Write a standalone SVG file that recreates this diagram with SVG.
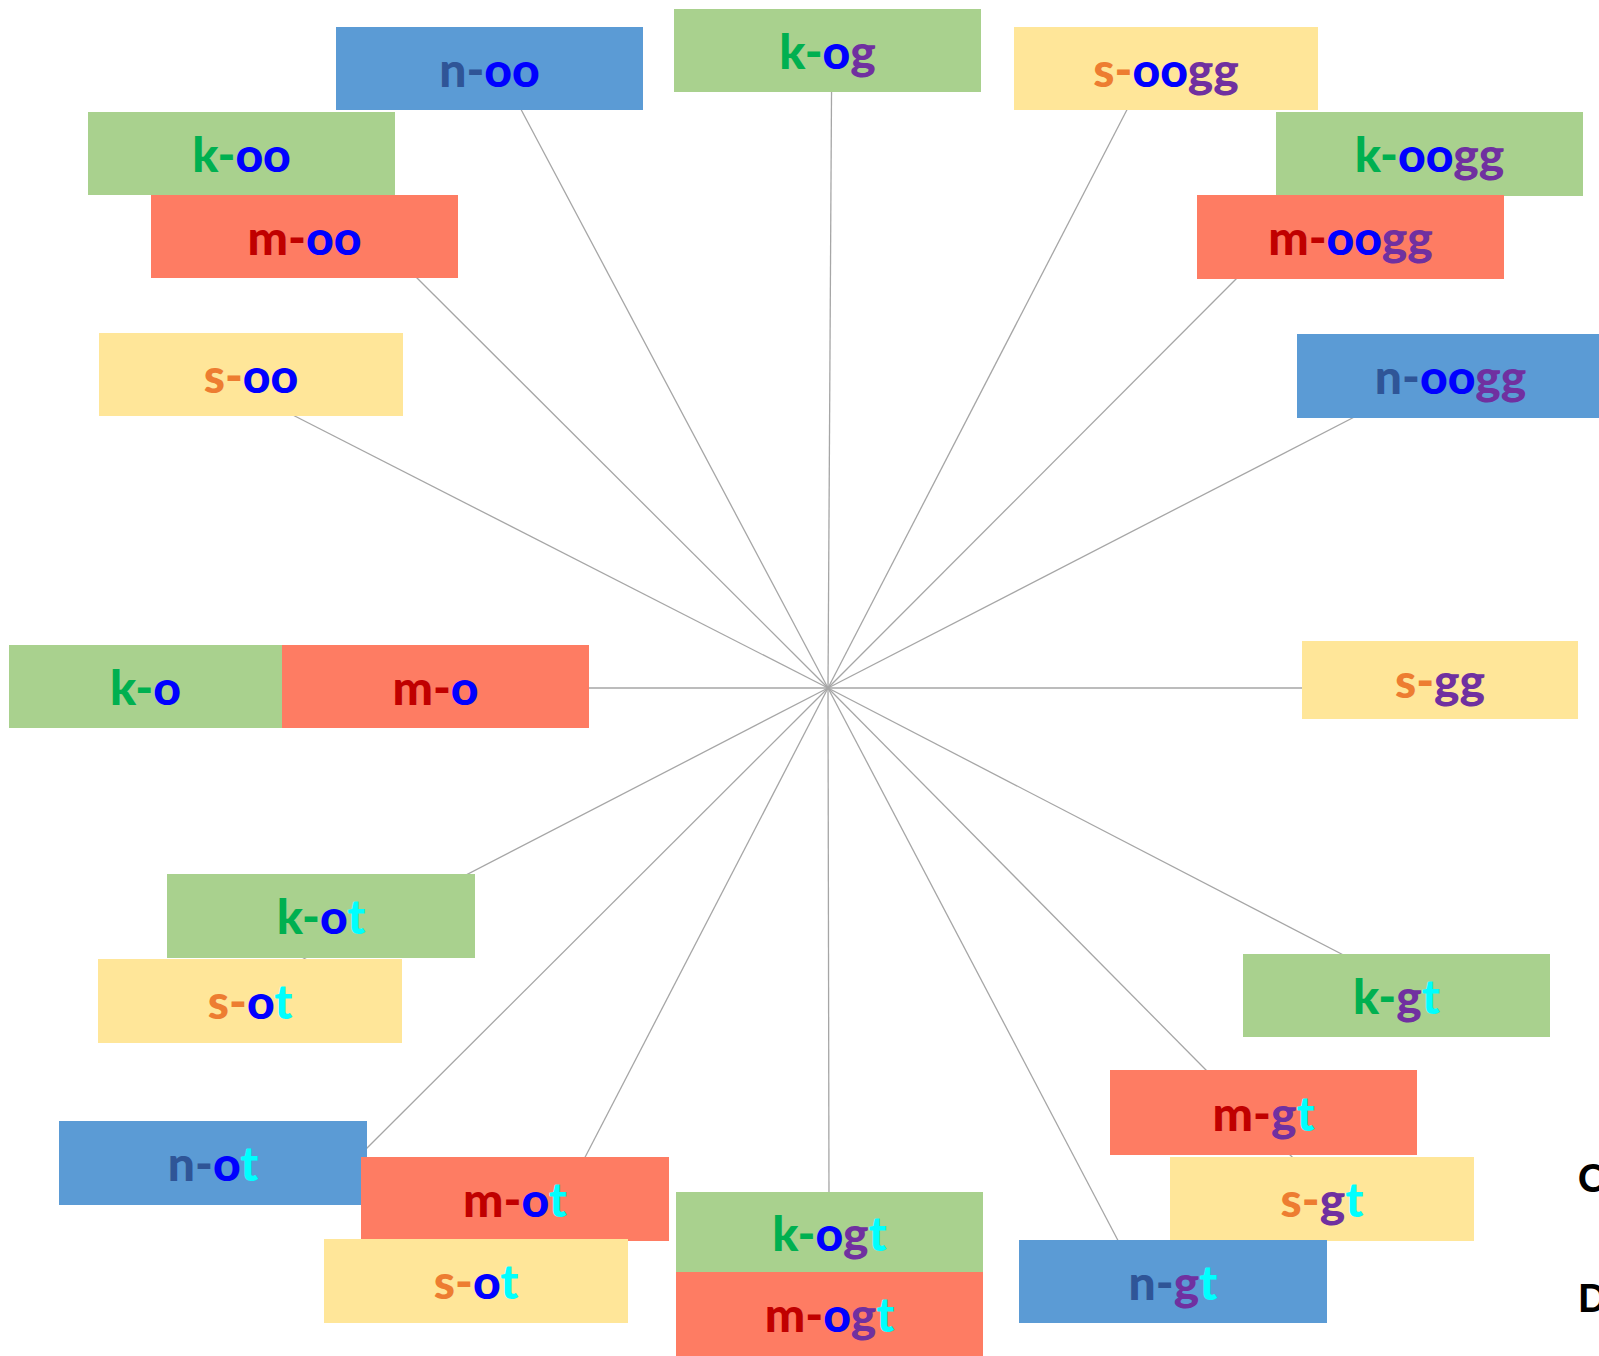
<svg xmlns="http://www.w3.org/2000/svg" width="1599" height="1356" viewBox="0 0 1599 1356">
<style>
.k{fill:#A9D18E}.m{fill:#FE7C63}.s{fill:#FFE699}.n{fill:#5B9BD5}
text{font-family:Lato,"Open Sans","Liberation Sans",sans-serif;font-weight:900;font-size:48px;text-anchor:middle}
.ck{fill:#00B050}.cm{fill:#C00000}.cs{fill:#ED7D31}.cn{fill:#2F5597}.co{fill:#0000FF}.cg{fill:#7030A0}.ct{fill:#00FFFF}
#connectors line{stroke:#A6A6A6;stroke-width:1.3}
.lbl{font-size:38px;fill:#000;text-anchor:start}
</style>
<rect width="1599" height="1356" fill="#fff"/>
<g id="connectors">
<line x1="828" y1="688" x2="516" y2="100"/>
<line x1="828" y1="688" x2="831.6" y2="80"/>
<line x1="828" y1="688" x2="1132" y2="100"/>
<line x1="828" y1="688" x2="406" y2="267"/>
<line x1="828" y1="688" x2="1246" y2="269"/>
<line x1="828" y1="688" x2="281" y2="409"/>
<line x1="828" y1="688" x2="1366" y2="411"/>
<line x1="828" y1="688" x2="570" y2="688"/>
<line x1="828" y1="688" x2="1320" y2="688"/>
<line x1="828" y1="688" x2="290" y2="966"/>
<line x1="828" y1="688" x2="356" y2="1159"/>
<line x1="828" y1="688" x2="580" y2="1167"/>
<line x1="828" y1="688" x2="829" y2="1205"/>
<line x1="828" y1="688" x2="1123" y2="1250"/>
<line x1="828" y1="688" x2="1300" y2="1165"/>
<line x1="828" y1="688" x2="1355" y2="961"/>
</g>
<g id="n-oo"><rect class="n" x="336" y="27" width="307" height="83"/><text x="489.5" y="86.5"><tspan class="cn">n-</tspan><tspan class="co">oo</tspan></text></g>
<g id="k-og"><rect class="k" x="674" y="9" width="307" height="83"/><text x="827.5" y="68.5"><tspan class="ck">k-</tspan><tspan class="co">o</tspan><tspan class="cg">g</tspan></text></g>
<g id="s-oogg"><rect class="s" x="1014" y="27" width="304" height="83"/><text x="1166" y="86.5"><tspan class="cs">s-</tspan><tspan class="co">oo</tspan><tspan class="cg">gg</tspan></text></g>
<g id="k-oo"><rect class="k" x="88" y="112" width="307" height="83"/><text x="241.5" y="171.5"><tspan class="ck">k-</tspan><tspan class="co">oo</tspan></text></g>
<g id="m-oo"><rect class="m" x="151" y="195" width="307" height="83"/><text x="304.5" y="254.5"><tspan class="cm">m-</tspan><tspan class="co">oo</tspan></text></g>
<g id="k-oogg"><rect class="k" x="1276" y="112" width="307" height="84"/><text x="1429.5" y="172"><tspan class="ck">k-</tspan><tspan class="co">oo</tspan><tspan class="cg">gg</tspan></text></g>
<g id="m-oogg"><rect class="m" x="1197" y="195" width="307" height="84"/><text x="1350.5" y="255"><tspan class="cm">m-</tspan><tspan class="co">oo</tspan><tspan class="cg">gg</tspan></text></g>
<g id="n-oogg"><rect class="n" x="1297" y="334" width="307" height="84"/><text x="1450.5" y="394"><tspan class="cn">n-</tspan><tspan class="co">oo</tspan><tspan class="cg">gg</tspan></text></g>
<g id="s-oo"><rect class="s" x="99" y="333" width="304" height="83"/><text x="251" y="392.5"><tspan class="cs">s-</tspan><tspan class="co">oo</tspan></text></g>
<g id="k-o"><rect class="k" x="9" y="645" width="273" height="83"/><text x="145.5" y="704.5"><tspan class="ck">k-</tspan><tspan class="co">o</tspan></text></g>
<g id="m-o"><rect class="m" x="282" y="645" width="307" height="83"/><text x="435.5" y="704.5"><tspan class="cm">m-</tspan><tspan class="co">o</tspan></text></g>
<g id="s-gg"><rect class="s" x="1302" y="641" width="276" height="78"/><text x="1440" y="698"><tspan class="cs">s-</tspan><tspan class="cg">gg</tspan></text></g>
<g id="k-ot"><rect class="k" x="167" y="874" width="308" height="84"/><text x="321" y="934"><tspan class="ck">k-</tspan><tspan class="co">o</tspan><tspan class="ct">t</tspan></text></g>
<g id="s-ot-1"><rect class="s" x="98" y="959" width="304" height="84"/><text x="250" y="1019"><tspan class="cs">s-</tspan><tspan class="co">o</tspan><tspan class="ct">t</tspan></text></g>
<g id="k-gt"><rect class="k" x="1243" y="954" width="307" height="83"/><text x="1396.5" y="1013.5"><tspan class="ck">k-</tspan><tspan class="cg">g</tspan><tspan class="ct">t</tspan></text></g>
<g id="m-gt"><rect class="m" x="1110" y="1070" width="307" height="85"/><text x="1263.5" y="1130.5"><tspan class="cm">m-</tspan><tspan class="cg">g</tspan><tspan class="ct">t</tspan></text></g>
<g id="s-gt"><rect class="s" x="1170" y="1157" width="304" height="84"/><text x="1322" y="1217"><tspan class="cs">s-</tspan><tspan class="cg">g</tspan><tspan class="ct">t</tspan></text></g>
<g id="n-ot"><rect class="n" x="59" y="1121" width="308" height="84"/><text x="213" y="1181"><tspan class="cn">n-</tspan><tspan class="co">o</tspan><tspan class="ct">t</tspan></text></g>
<g id="m-ot"><rect class="m" x="361" y="1157" width="308" height="84"/><text x="515" y="1217"><tspan class="cm">m-</tspan><tspan class="co">o</tspan><tspan class="ct">t</tspan></text></g>
<g id="s-ot-2"><rect class="s" x="324" y="1239" width="304" height="84"/><text x="476" y="1299"><tspan class="cs">s-</tspan><tspan class="co">o</tspan><tspan class="ct">t</tspan></text></g>
<g id="k-ogt"><rect class="k" x="676" y="1192" width="307" height="81"/><text x="829.5" y="1250.5"><tspan class="ck">k-</tspan><tspan class="co">o</tspan><tspan class="cg">g</tspan><tspan class="ct">t</tspan></text></g>
<g id="m-ogt"><rect class="m" x="676" y="1272" width="307" height="84"/><text x="829.5" y="1332"><tspan class="cm">m-</tspan><tspan class="co">o</tspan><tspan class="cg">g</tspan><tspan class="ct">t</tspan></text></g>
<g id="n-gt"><rect class="n" x="1019" y="1240" width="308" height="83"/><text x="1173" y="1299.5"><tspan class="cn">n-</tspan><tspan class="cg">g</tspan><tspan class="ct">t</tspan></text></g>
<g id="labels"><text class="lbl" x="1578" y="1192">C</text><text class="lbl" x="1578" y="1312">D</text></g>
</svg>
